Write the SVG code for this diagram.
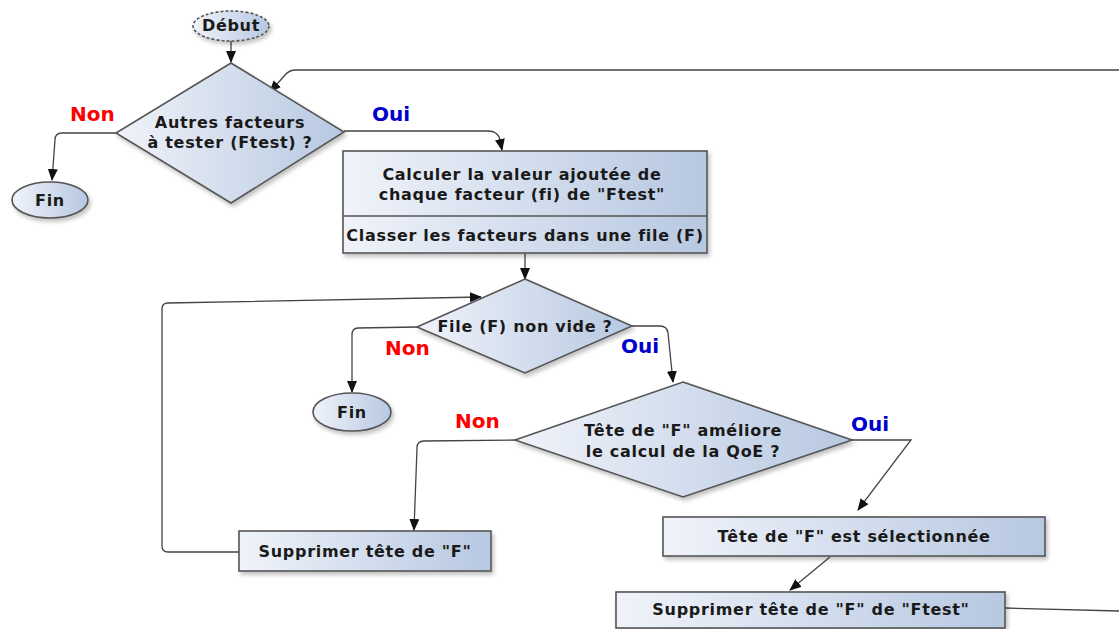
<svg xmlns="http://www.w3.org/2000/svg" width="1119" height="629" viewBox="0 0 1119 629">
<defs>
<linearGradient id="g" x1="0" y1="0" x2="1" y2="0">
<stop offset="0" stop-color="#f0f3fa"/>
<stop offset="1" stop-color="#b7c8e1"/>
</linearGradient>
<filter id="sh" x="-10%" y="-10%" width="130%" height="140%">
<feGaussianBlur in="SourceAlpha" stdDeviation="2"/>
<feOffset dx="2" dy="3"/>
<feComponentTransfer><feFuncA type="linear" slope="0.25"/></feComponentTransfer>
<feMerge><feMergeNode/><feMergeNode in="SourceGraphic"/></feMerge>
</filter>
<marker id="ah" markerWidth="12" markerHeight="10" viewBox="0 0 12 10" refX="11" refY="5" orient="auto" markerUnits="userSpaceOnUse">
<path d="M0,0 L12,5 L0,10 Z" fill="#111"/>
</marker>
</defs>
<style>
.n{fill:url(#g);stroke:#555;stroke-width:1.6}
.t{font-family:"DejaVu Sans",sans-serif;font-weight:bold;font-size:16px;letter-spacing:0.7px;fill:#1a1a1a;text-anchor:middle}
.c{fill:none;stroke:#444;stroke-width:1.3}
.a{marker-end:url(#ah)}
.no{font-family:"DejaVu Sans",sans-serif;font-weight:bold;font-size:20px;fill:#ff0000}
.oui{font-family:"DejaVu Sans",sans-serif;font-weight:bold;font-size:20px;fill:#0000cc}
</style>
<rect width="1119" height="629" fill="#fff"/>
<g id="connectors">
<path class="c a" d="M231,41 L231,62"/>
<path class="c a" d="M1119,70 L296,70 Q289,70 285,75 L270,92"/>
<path class="c a" d="M116,133 L62,133 Q55,133 55,140 L52,180"/>
<path class="c a" d="M344,131 L488,131 Q498,131 500,140 L502,150"/>
<path class="c a" d="M525,253 L525,279"/>
<path class="c a" d="M240,552 L168,552 Q162,552 162,546 L162,309 Q162,303 168,303 L481,297"/>
<path class="c a" d="M417,327 L358,328 Q352,328 352,335 L352,392"/>
<path class="c a" d="M632,326 L660,326 Q667,326 668,333 L673,382"/>
<path class="c a" d="M515,440 L424,441 Q417,441 417,448 L414,530"/>
<path class="c a" d="M852,440 L911,440 L858,510"/>
<path class="c a" d="M830,557 L790,590"/>
<path class="c" d="M1005,608 L1119,611"/>
</g>
<g id="debut">
<ellipse class="n" cx="231" cy="26" rx="38" ry="15" stroke-dasharray="3,2" filter="url(#sh)"/>
<text class="t" x="231" y="31">Début</text>
</g>
<g id="d1">
<polygon class="n" points="231,63 344,132 231,203 116,133" filter="url(#sh)"/>
<text class="t" x="230" y="128">Autres facteurs</text>
<text class="t" x="230" y="148">à tester (Ftest) ?</text>
</g>
<g id="fin1">
<ellipse class="n" cx="50" cy="200" rx="38" ry="18" filter="url(#sh)"/>
<text class="t" x="50" y="206">Fin</text>
</g>
<g id="labels">
<text class="no" x="70" y="121">Non</text>
<text class="oui" x="372" y="121">Oui</text>
<text class="no" x="385" y="355">Non</text>
<text class="oui" x="621" y="353">Oui</text>
<text class="no" x="455" y="428">Non</text>
<text class="oui" x="851" y="431">Oui</text>
</g>
<g id="box1">
<rect class="n" x="343" y="151" width="364" height="102" filter="url(#sh)"/>
<line x1="343" y1="216" x2="707" y2="216" stroke="#555" stroke-width="1.4"/>
<text class="t" x="522" y="180">Calculer la valeur ajoutée de</text>
<text class="t" x="522" y="200">chaque facteur (fi) de "Ftest"</text>
<text class="t" x="525" y="241">Classer les facteurs dans une file (F)</text>
</g>
<g id="d2">
<polygon class="n" points="525,279 632,326 525,373 417,327" filter="url(#sh)"/>
<text class="t" x="525" y="332">File (F) non vide ?</text>
</g>
<g id="fin2">
<ellipse class="n" cx="352" cy="412" rx="39" ry="19" filter="url(#sh)"/>
<text class="t" x="352" y="418">Fin</text>
</g>
<g id="d3">
<polygon class="n" points="683,382 852,440 683,497 515,440" filter="url(#sh)"/>
<text class="t" x="683" y="436">Tête de "F" améliore</text>
<text class="t" x="683" y="457">le calcul de la QoE ?</text>
</g>
<g id="sup1">
<rect class="n" x="239" y="531" width="252" height="40" filter="url(#sh)"/>
<text class="t" x="365" y="557">Supprimer tête de "F"</text>
</g>
<g id="sel">
<rect class="n" x="663" y="517" width="382" height="39" filter="url(#sh)"/>
<text class="t" x="854" y="542">Tête de "F" est sélectionnée</text>
</g>
<g id="sup2">
<rect class="n" x="616" y="592" width="389" height="36" filter="url(#sh)"/>
<text class="t" x="811" y="615">Supprimer tête de "F" de "Ftest"</text>
</g>
</svg>
